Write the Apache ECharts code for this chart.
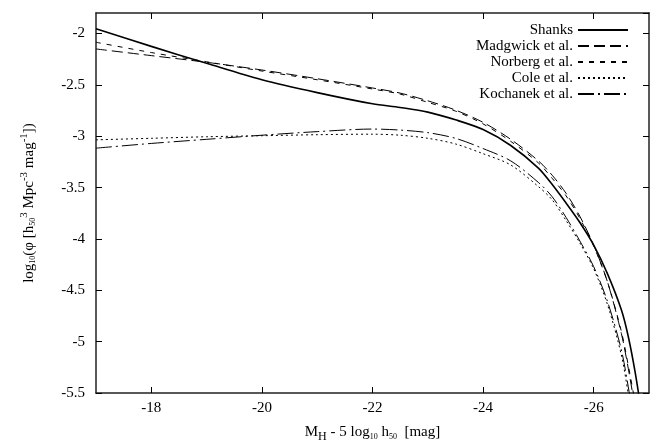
<!DOCTYPE html>
<html>
<head>
<meta charset="utf-8">
<script src="https://cdn.jsdelivr.net/npm/echarts@6/dist/echarts.min.js"></script>
<style>
	html, body { margin: 0; padding: 0; background: #fff; }
	#chart { width: 651px; height: 443px; }
</style>
</head>
<body>
<div id="chart"></div>
<script>
	// absolute magnitude M_H - 5 log10 h50
	var mags = [-17, -18, -19, -20, -21, -22, -22.5, -23, -23.5, -24, -24.5, -25, -25.25, -25.5, -25.75, -26, -26.25, -26.5, -26.625, -26.75, -26.875, -27];

	// log10 phi for each luminosity function
	var shanks   = [-1.953, -2.125, -2.29, -2.45, -2.575, -2.684, -2.72, -2.765, -2.84, -2.935, -3.09, -3.31, -3.47, -3.65, -3.84, -4.06, -4.34, -4.69, -4.95, -5.30, -5.73, -6.2];
	var madgwick = [-2.15, -2.215, -2.28, -2.355, -2.44, -2.53, -2.58, -2.655, -2.745, -2.865, -3.03, -3.24, -3.38, -3.555, -3.78, -4.06, -4.42, -4.92, -5.26, -5.65, -6.05, -6.5];
	var norberg  = [-2.085, -2.185, -2.275, -2.365, -2.45, -2.54, -2.59, -2.67, -2.755, -2.88, -3.05, -3.26, -3.41, -3.58, -3.80, -4.07, -4.42, -4.90, -5.23, -5.6, -6.02, -6.5];
	var cole     = [-3.035, -3.02, -3.005, -2.995, -2.985, -2.98, -2.99, -3.02, -3.075, -3.17, -3.28, -3.49, -3.62, -3.82, -4.04, -4.29, -4.64, -5.13, -5.51, -5.95, -6.35, -6.8];
	var kochanek = [-3.116, -3.07, -3.03, -2.99, -2.955, -2.93, -2.94, -2.965, -3.02, -3.12, -3.24, -3.45, -3.59, -3.79, -4.02, -4.27, -4.61, -5.08, -5.44, -5.85, -6.25, -6.7];

	var names = ['Shanks', 'Madgwick et al.', 'Norberg et al.', 'Cole et al.', 'Kochanek et al.'];
	var xTicks = [-18, -20, -22, -24, -26];

	function pairs(arr) {
		return mags.map(function(m, i) { return [m, arr[i]]; });
	}

	var font = 'Liberation Serif';
	var black = '#000';

	var chart = echarts.init(document.getElementById('chart'));

	var option = {
		animation: false,
		textStyle: { fontFamily: font, color: black },
		grid: { left: 96, right: 2, top: 13, bottom: 50, outerBoundsMode: 'none', containLabel: false },
		legend: {
			orient: 'vertical',
			right: 17,
			top: 17,
			align: 'right',
			itemWidth: 50,
			itemHeight: 12,
			itemGap: 0,
			itemStyle: { color: 'rgba(0,0,0,0)', borderWidth: 0 },
			textStyle: { fontFamily: font, fontSize: 15, color: black, lineHeight: 16 },
			data: names
		},
		xAxis: [{
			type: 'value',
			inverse: true,
			min: -27,
			max: -17,
			name: '{n|M}{s1|H}{n| - 5 log}{s|10}{n| h}{s|50}{n|  [mag]}',
			nameLocation: 'middle',
			nameGap: 29,
			nameTextStyle: {
				rich: {
					n: { fontFamily: font, fontSize: 15, color: black, lineHeight: 20, verticalAlign: 'middle' },
					s1: { fontFamily: font, fontSize: 12, color: black, padding: [9, 0, 0, 0] },
					s: { fontFamily: font, fontSize: 8, color: black, padding: [8, 0, 0, 0] }
				}
			},
			axisLine: { show: true, lineStyle: { color: '#222', width: 1.5 } },
			axisTick: { inside: true, length: 6, customValues: xTicks, lineStyle: { color: black } },
			axisLabel: { customValues: xTicks, fontSize: 15, color: black, fontFamily: font, margin: 8 },
			splitLine: { show: false }
		}, {
			type: 'value',
			position: 'top',
			inverse: true,
			min: -27,
			max: -17,
			axisLine: { show: true, lineStyle: { color: '#222', width: 1.5 } },
			axisTick: { inside: true, length: 6, customValues: xTicks, lineStyle: { color: black } },
			axisLabel: { show: false },
			splitLine: { show: false }
		}],
		yAxis: [{
			type: 'value',
			min: -5.5,
			max: -1.8,
			interval: 0.5,
			name: '{n|log}{s|10}{n|(φ [h}{s|50}{p|3}{n| Mpc}{p|-3}{n| mag}{p|-1}{n|])}',
			nameLocation: 'middle',
			nameRotate: 90,
			nameGap: 57,
			nameTextStyle: {
				rich: {
					n: { fontFamily: font, fontSize: 15, color: black, lineHeight: 20, verticalAlign: 'middle' },
					s: { fontFamily: font, fontSize: 8, color: black, padding: [8, 0, 0, 0] },
					p: { fontFamily: font, fontSize: 11, color: black, padding: [0, 0, 9, 0] }
				}
			},
			axisLine: { show: true, lineStyle: { color: '#222', width: 1.5 } },
			axisTick: { inside: true, length: 6, lineStyle: { color: black } },
			axisLabel: { showMaxLabel: false, fontSize: 15, color: black, fontFamily: font, margin: 11 },
			splitLine: { show: false }
		}, {
			type: 'value',
			position: 'right',
			min: -5.5,
			max: -1.8,
			interval: 0.5,
			axisLine: { show: true, lineStyle: { color: '#222', width: 1.5 } },
			axisTick: { inside: true, length: 6, lineStyle: { color: black } },
			axisLabel: { show: false },
			splitLine: { show: false }
		}],
		series: [{
			name: names[0],
			type: 'line',
			symbol: 'none',
			smooth: 0.3,
			lineStyle: { color: black, width: 1.6, type: 'solid' },
			itemStyle: { color: black },
			data: pairs(shanks)
		}, {
			name: names[1],
			type: 'line',
			symbol: 'none',
			smooth: 0.3,
			lineStyle: { color: black, width: 1, type: [11, 5] },
			itemStyle: { color: black },
			data: pairs(madgwick)
		}, {
			name: names[2],
			type: 'line',
			symbol: 'none',
			smooth: 0.3,
			lineStyle: { color: black, width: 1, type: [5, 6] },
			itemStyle: { color: black },
			data: pairs(norberg)
		}, {
			name: names[3],
			type: 'line',
			symbol: 'none',
			smooth: 0.3,
			lineStyle: { color: black, width: 1, type: [2, 3] },
			itemStyle: { color: black },
			data: pairs(cole)
		}, {
			name: names[4],
			type: 'line',
			symbol: 'none',
			smooth: 0.3,
			lineStyle: { color: black, width: 1, type: [16, 4, 2, 4] },
			itemStyle: { color: black },
			data: pairs(kochanek)
		}]
	};

	chart.setOption(option);
</script>
</body>
</html>
